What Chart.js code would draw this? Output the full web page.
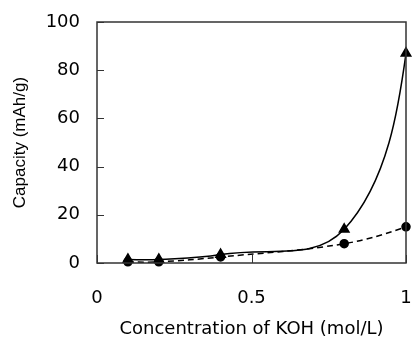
<!DOCTYPE html>
<html lang="en">
<head>
  <meta charset="UTF-8" />
  <title>Capacity vs KOH</title>
  <script src="https://cdn.jsdelivr.net/npm/chart.js"></script>
  <style>
    body { margin: 0; background: #fff; }
    #wrap { width: 413px; height: 340px; }
  </style>
</head>
<body>
  <div id="wrap"><canvas id="chart"></canvas></div>

  <script>
    const concentrations = [0.1, 0.2, 0.4, 0.8, 1.0];
    const triangleCapacity = [1.5, 1.5, 3.5, 14, 87];
    const circleCapacity = [0.5, 0.5, 2.5, 8, 15];
    const xTicks = [0, 0.5, 1];
    const yTicks = [0, 20, 40, 60, 80, 100];

    const TENSION = 0.4;
    const toPoints = vals => concentrations.map((x, i) => ({ x: x, y: vals[i] }));

    // chart.js aims the end handles straight at the neighbour point, which gives an S at the
    // steep end; aim them at the neighbour's control point instead
    const endHandles = {
      id: 'endHandles',
      beforeDatasetDraw(chart, args) {
        const line = args.meta.dataset;
        const pts = args.meta.data;
        if (!line || pts.length < 3) return;
        if (line.updateControlPoints) line.updateControlPoints(chart.chartArea, args.meta.indexAxis);
        const first = pts[0], second = pts[1];
        first.cp2x = first.x + TENSION * (second.cp1x - first.x);
        first.cp2y = first.y + TENSION * (second.cp1y - first.y);
        const last = pts[pts.length - 1], prev = pts[pts.length - 2];
        last.cp1x = last.x + TENSION * (prev.cp2x - last.x);
        last.cp1y = last.y + TENSION * (prev.cp2y - last.y);
      }
    };

    // box round the plot + ticks pointing inward
    const frame = {
      id: 'frame',
      afterDraw(chart) {
        const { ctx, chartArea: a, scales } = chart;
        ctx.save();
        ctx.strokeStyle = '#333';
        ctx.lineWidth = 1.5;
        ctx.strokeRect(a.left, a.top, a.right - a.left, a.bottom - a.top);
        ctx.lineWidth = 1;
        ctx.beginPath();
        yTicks.forEach(v => {
          const y = Math.round(scales.y.getPixelForValue(v)) + 0.5;
          ctx.moveTo(a.left, y);
          ctx.lineTo(a.left + 7, y);
        });
        xTicks.forEach(v => {
          const x = Math.round(scales.x.getPixelForValue(v)) + 0.5;
          ctx.moveTo(x, a.bottom);
          ctx.lineTo(x, a.bottom - 8);
        });
        ctx.stroke();
        ctx.restore();
      }
    };

    new Chart(document.getElementById('chart'), {
      type: 'scatter',
      data: {
        datasets: [
          {
            data: toPoints(triangleCapacity),
            showLine: true,
            tension: TENSION,
            clip: false,
            borderColor: '#000',
            borderWidth: 1.5,
            pointStyle: 'triangle',
            pointRadius: 5.5,
            pointBackgroundColor: '#000',
            pointBorderColor: '#000',
            order: 1
          },
          {
            data: toPoints(circleCapacity),
            showLine: true,
            tension: TENSION,
            clip: false,
            borderColor: '#000',
            borderWidth: 1.5,
            borderDash: [6, 4],
            pointStyle: 'circle',
            pointRadius: 4,
            pointBackgroundColor: '#000',
            pointBorderColor: '#000',
            order: 2
          }
        ]
      },
      options: {
        responsive: true,
        maintainAspectRatio: false,
        animation: false,
        layout: { padding: { top: 22, right: 3, left: 0, bottom: 0 } },
        plugins: {
          legend: { display: false },
          tooltip: { enabled: false }
        },
        scales: {
          x: {
            type: 'linear',
            min: 0,
            max: 1,
            afterBuildTicks: s => { s.ticks = xTicks.map(v => ({ value: v })); },
            afterFit: s => { s.height = 77; s.paddingLeft = 0; s.paddingRight = 0; },
            grid: { display: false },
            border: { display: false },
            ticks: {
              color: '#000',
              padding: 17,
              font: { family: 'DejaVu Sans', size: 18 },
              callback: v => String(v)
            },
            title: {
              display: true,
              text: 'Concentration of KOH (mol/L)',
              color: '#000',
              font: { family: 'DejaVu Sans', size: 18 },
              padding: { top: 4, bottom: 0 }
            }
          },
          y: {
            min: 0,
            max: 100,
            afterBuildTicks: s => { s.ticks = yTicks.map(v => ({ value: v })); },
            afterFit: s => { s.width = 97; s.paddingTop = 0; s.paddingBottom = 0; },
            grid: { display: false },
            border: { display: false },
            ticks: {
              color: '#000',
              padding: 9,
              font: { family: 'DejaVu Sans', size: 18 }
            },
            title: {
              display: true,
              text: 'Capacity (mAh/g)',
              color: '#000',
              font: { family: 'Liberation Sans', size: 17 },
              padding: { top: 10, bottom: 0 }
            }
          }
        }
      },
      plugins: [endHandles, frame]
    });
  </script>
</body>
</html>
